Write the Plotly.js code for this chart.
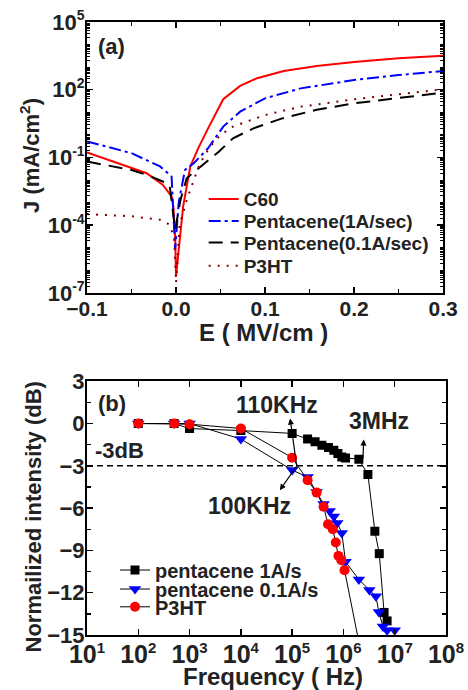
<!DOCTYPE html>
<html><head><meta charset="utf-8">
<script src="https://cdn.plot.ly/plotly-3.0.1.min.js"></script>
<style>html,body{margin:0;padding:0;background:#fff}#chart{width:468px;height:690px}</style>
</head><body><div id="chart"></div><script>
// ---------- Panel (a): J vs E ----------
const E_c60 = [-0.1, -0.067, -0.033, -0.015, -0.009, -0.005, -0.003, -0.001, 0.0, 0.008, 0.016, 0.025, 0.036, 0.053, 0.072, 0.091, 0.121, 0.158, 0.2, 0.25, 0.3];
const J_c60 = [0.166, 0.06, 0.020, 0.0062, 0.0031, 0.0019, 6.8e-4, 3.2e-5, 5.4e-7, 6.8e-4, 0.04, 0.26, 1.95, 38, 148, 324, 676, 1122, 1700, 2455, 3162];

const E_pen1 = [-0.1, -0.05, -0.018, -0.005, -0.001, 0.003, 0.01, 0.02, 0.036, 0.053, 0.072, 0.1, 0.14, 0.2, 0.25, 0.3];
const J_pen1 = [0.51, 0.155, 0.040, 0.0145, 8.1e-6, 0.001, 0.028, 0.056, 0.257, 2.34, 10.7, 41.7, 115, 269, 447, 676];

const E_pen01 = [-0.1, -0.05, -0.033, -0.01, -0.007, -0.001, 0.005, 0.012, 0.023, 0.035, 0.048, 0.064, 0.087, 0.12, 0.158, 0.2, 0.25, 0.3];
const J_pen01 = [0.066, 0.028, 0.017, 0.0072, 0.0051, 6.3e-5, 0.0013, 0.012, 0.028, 0.066, 0.18, 0.71, 1.95, 5.5, 12.9, 25, 41.7, 74];

const E_p3ht = [-0.1, -0.05, -0.018, -0.007, -0.002, 0.0, 0.004, 0.012, 0.02, 0.027, 0.038, 0.05, 0.064, 0.1, 0.14, 0.2, 0.25, 0.3];
const J_p3ht = [3.1e-4, 2.5e-4, 1.74e-4, 1.05e-4, 2.5e-5, 2.8e-7, 1e-4, 0.0013, 0.010, 0.056, 0.30, 1.0, 2.34, 7.6, 17.8, 38, 63, 105];

const namesA = ['C60', 'Pentacene(1A/sec)', 'Pentacene(0.1A/sec)', 'P3HT'];
const titlesA = ['E ( MV/cm )', 'J (mA/cm<sup>2</sup>)', '(a)'];
const jTickVals = [1e-7, 1e-4, 1e-1, 1e2, 1e5];
const jTickExp = ['-7', '-4', '-1', '2', '5'];

// ---------- Panel (b): frequency response ----------
const f_pen1 = [100, 500, 1000, 1e4, 1e5, 2e5, 2.8e5, 3.8e5, 5.1e5, 6.5e5, 7.8e5, 9.3e5, 1.1e6, 2e6, 3e6, 4.1e6, 5e6, 6.2e6, 7.1e6];
const dB_pen1 = [0, 0, -0.36, -0.5, -0.7, -1.1, -1.3, -1.54, -1.7, -1.9, -2.13, -2.37, -2.44, -2.53, -3.62, -7.64, -9.23, -13.4, -14.0];

const f_pen01 = [100, 500, 1000, 1e4, 1e5, 2e5, 3e5, 4.1e5, 5.4e5, 6.5e5, 7.6e5, 9.3e5, 1.1e6, 2e6, 3.2e6, 4.3e6, 4.9e6, 5.9e6, 7.1e6, 1e7];
const dB_pen01 = [0, 0, 0, -1.1, -3.3, -3.8, -4.85, -5.7, -6.2, -6.6, -7.05, -7.76, -9.8, -11.07, -11.8, -12.26, -13.37, -14.4, -14.67, -14.67];

const f_p3ht = [100, 500, 1000, 1e4, 1e5, 2e5, 3e5, 4.1e5, 5e5, 6.2e5, 7.1e5, 8e5, 9.1e5, 1.05e6, 2e6];
const dB_p3ht = [0, 0, -0.05, -0.35, -2.42, -4.02, -4.9, -5.9, -7.14, -7.5, -8.44, -9.39, -9.7, -10.4, -15.5];

const namesB = ['pentacene 1A/s', 'pentacene 0.1A/s', 'P3HT'];
const threshold_dB = -3;
const labelsB = ['(b)', '-3dB', '110KHz', '3MHz', '100KHz'];
const titlesB = ['Frequency ( Hz)', 'Normailized intensity (dB)'];
const freqTickVals = [1e1, 1e2, 1e3, 1e4, 1e5, 1e6, 1e7, 1e8];
const freqTickExp = ['1', '2', '3', '4', '5', '6', '7', '8'];

const FONT = 'Liberation Sans, Arial, sans-serif';
const TXT = '#222';
function F(size) { return {family: FONT, size: size, color: TXT, weight: 'bold'}; }
function pow10(e, s) { return '10<sup><span style="font-size:' + s + 'px">' + e + '</span></sup>'; }

const traces = [
  {x: E_c60, y: J_c60, name: namesA[0], mode: 'lines', line: {color: '#ff0000', width: 2}, xaxis: 'x', yaxis: 'y', legend: 'legend'},
  {x: E_pen1, y: J_pen1, name: namesA[1], mode: 'lines', line: {color: '#0000ff', width: 2, dash: '12px,4px,3px,4px'}, xaxis: 'x', yaxis: 'y', legend: 'legend2'},
  {x: E_pen01, y: J_pen01, name: namesA[2], mode: 'lines', line: {color: '#000000', width: 2, dash: '14px,8px'}, xaxis: 'x', yaxis: 'y', legend: 'legend3'},
  {x: E_p3ht, y: J_p3ht, name: namesA[3], mode: 'lines', line: {color: '#800000', width: 2, dash: '2px,7px'}, xaxis: 'x', yaxis: 'y', legend: 'legend4'},
  {x: f_pen1, y: dB_pen1, name: namesB[0], mode: 'lines+markers', line: {color: '#000', width: 1}, marker: {symbol: 'square', size: 9, color: '#000'}, xaxis: 'x2', yaxis: 'y2', legend: 'legend5'},
  {x: f_pen01, y: dB_pen01, name: namesB[1], mode: 'lines+markers', line: {color: '#000', width: 1}, marker: {symbol: 'triangle-down', size: 11, color: '#0000ff'}, xaxis: 'x2', yaxis: 'y2', legend: 'legend6'},
  {x: f_p3ht, y: dB_p3ht, name: namesB[2], mode: 'lines+markers', line: {color: '#000', width: 1}, marker: {symbol: 'circle', size: 10, color: '#ff0000'}, xaxis: 'x2', yaxis: 'y2', legend: 'legend7'}
];

const axisBase = {
  showline: true, linewidth: 2, linecolor: '#000', mirror: 'ticks',
  ticks: 'inside', ticklen: 6, tickwidth: 1.5, tickcolor: '#000',
  showgrid: false, zeroline: false
};

function leg(x, y, size) {
  return {x: x, y: y, xanchor: 'left', yanchor: 'middle', bgcolor: 'rgba(0,0,0,0)', borderwidth: 0,
    font: F(size), tracegroupgap: 0};
}

const layout = {
  width: 468, height: 690,
  margin: {l: 87, r: 22, t: 22, b: 55},
  paper_bgcolor: '#fff', plot_bgcolor: '#fff',
  showlegend: true,
  xaxis: Object.assign({}, axisBase, {domain: [0, 0.992], anchor: 'y', range: [-0.1, 0.3], dtick: 0.1, tickformat: '.1f',
    tickfont: F(21), ticklabelstandoff: -4,
    minor: {dtick: 0.05, ticks: 'inside', ticklen: 4, tickcolor: '#000', tickwidth: 1.5}}),
  yaxis: Object.assign({}, axisBase, {domain: [0.558, 1], anchor: 'x', type: 'log', range: [-7, 5],
    tickvals: jTickVals, ticktext: jTickExp.map(e => pow10(e, 14)), tickfont: F(22), ticklabelstandoff: -4,
    minor: {dtick: 'D1', ticks: 'inside', ticklen: 3, tickcolor: '#000', tickwidth: 1}}),
  xaxis2: Object.assign({}, axisBase, {domain: [0, 1], anchor: 'y2', type: 'log', range: [1, 8],
    tickvals: freqTickVals, ticktext: freqTickExp.map(e => pow10(e, 15)), tickfont: F(25), ticklabelstandoff: -4}),
  yaxis2: Object.assign({}, axisBase, {domain: [0, 0.414], anchor: 'x2', range: [-15, 3], dtick: 3,
    tickfont: F(22), ticklabelstandoff: -4,
    minor: {dtick: 1.5, ticks: 'inside', ticklen: 4, tickcolor: '#000', tickwidth: 1.5}}),
  legend: leg(0.325, 0.711, 19),
  legend2: leg(0.325, 0.675, 19),
  legend3: leg(0.325, 0.640, 19),
  legend4: leg(0.325, 0.602, 19),
  legend5: leg(0.078, 0.106, 20),
  legend6: leg(0.078, 0.075, 20),
  legend7: leg(0.078, 0.046, 20),
  shapes: [
    {type: 'line', xref: 'x2 domain', yref: 'y2', x0: 0, x1: 1, y0: threshold_dB, y1: threshold_dB, line: {color: '#000', width: 1.5, dash: '6px,4px'}}
  ],
  annotations: [
    {xref: 'paper', yref: 'paper', x: 0.493, y: 0.494, xanchor: 'center', yanchor: 'middle', text: titlesA[0], showarrow: false, font: F(24)},
    {xref: 'paper', yref: 'paper', x: -0.159, y: 0.783, xanchor: 'center', yanchor: 'middle', text: titlesA[1], textangle: -90, showarrow: false, font: F(22)},
    {xref: 'paper', yref: 'paper', x: 0.517, y: -0.067, xanchor: 'center', yanchor: 'middle', text: titlesB[0], showarrow: false, font: F(24)},
    {xref: 'paper', yref: 'paper', x: -0.150, y: 0.192, xanchor: 'center', yanchor: 'middle', text: titlesB[1], textangle: -90, showarrow: false, font: F(22)},
    {xref: 'x domain', yref: 'y domain', x: 0.025, y: 0.908, xanchor: 'left', yanchor: 'middle', text: titlesA[2], showarrow: false, font: F(22)},
    {xref: 'x2 domain', yref: 'y2 domain', x: 0.025, y: 0.913, xanchor: 'left', yanchor: 'middle', text: labelsB[0], showarrow: false, font: F(22)},
    {xref: 'x2', yref: 'y2', x: 1.117, y: -1.9, xanchor: 'left', yanchor: 'middle', text: labelsB[1], showarrow: false, font: F(22)},
    {xref: 'x2', yref: 'y2', x: 4.71, y: 1.30, xanchor: 'center', yanchor: 'middle', text: labelsB[2], showarrow: false, font: F(23)},
    {xref: 'x2', yref: 'y2', x: 6.70, y: 0.16, xanchor: 'center', yanchor: 'middle', text: labelsB[3], showarrow: false, font: F(23)},
    {xref: 'x2', yref: 'y2', x: 4.17, y: -5.84, xanchor: 'center', yanchor: 'middle', text: labelsB[4], showarrow: false, font: F(23)},
    {xref: 'x2', yref: 'y2', axref: 'x2', ayref: 'y2', x: 4.96, y: 0.35, ax: 5.1, ay: -3.3, text: '', showarrow: true, arrowhead: 2, arrowsize: 1, arrowwidth: 1.2, arrowcolor: '#000'},
    {xref: 'x2', yref: 'y2', axref: 'x2', ayref: 'y2', x: 4.76, y: -4.73, ax: 5.1, ay: -2.96, text: '', showarrow: true, arrowhead: 2, arrowsize: 1, arrowwidth: 1.2, arrowcolor: '#000'},
    {xref: 'x2', yref: 'y2', axref: 'x2', ayref: 'y2', x: 6.395, y: -1.14, ax: 6.38, ay: -2.6, text: '', showarrow: true, arrowhead: 2, arrowsize: 1, arrowwidth: 1.2, arrowcolor: '#000'}
  ]
};

Plotly.newPlot('chart', traces, layout, {staticPlot: true, displayModeBar: false});
</script></body></html>
